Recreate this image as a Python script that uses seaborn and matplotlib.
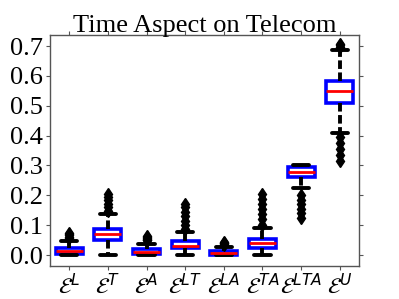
import numpy as np
import pandas as pd
import seaborn as sns
import matplotlib
matplotlib.use("Agg")
import matplotlib.pyplot as plt

# labels of the eight variants
labels = [r'$\mathcal{E}^{L}$', r'$\mathcal{E}^{T}$', r'$\mathcal{E}^{A}$', r'$\mathcal{E}^{LT}$',
          r'$\mathcal{E}^{LA}$', r'$\mathcal{E}^{TA}$', r'$\mathcal{E}^{LTA}$', r'$\mathcal{E}^{U}$']

# values (sorted, 33 per group)
e_l = [0.000, 0.000, 0.001, 0.001, 0.002, 0.002, 0.003, 0.003, 0.004,
       0.005, 0.006, 0.007, 0.008, 0.009, 0.010, 0.012, 0.013,
       0.014, 0.015, 0.017, 0.018, 0.020, 0.021, 0.023, 0.024,
       0.030, 0.040, 0.048, 0.056, 0.061, 0.066, 0.071, 0.075]
e_t = [0.000, 0.010, 0.020, 0.028, 0.035, 0.040, 0.044, 0.047, 0.050,
       0.053, 0.056, 0.059, 0.061, 0.063, 0.065, 0.067, 0.069,
       0.071, 0.073, 0.075, 0.078, 0.080, 0.082, 0.084, 0.086,
       0.110, 0.137, 0.146, 0.160, 0.172, 0.184, 0.196, 0.206]
e_a = [0.000, 0.000, 0.000, 0.001, 0.001, 0.001, 0.002, 0.002, 0.002,
       0.003, 0.004, 0.005, 0.006, 0.007, 0.008, 0.008, 0.009,
       0.010, 0.012, 0.013, 0.015, 0.016, 0.018, 0.019, 0.020,
       0.028, 0.037, 0.049, 0.052, 0.055, 0.058, 0.061, 0.063]
e_lt = [0.000, 0.004, 0.008, 0.011, 0.014, 0.017, 0.019, 0.021, 0.022,
        0.024, 0.025, 0.027, 0.028, 0.029, 0.030, 0.031, 0.032,
        0.034, 0.036, 0.038, 0.040, 0.042, 0.043, 0.045, 0.046,
        0.078, 0.087, 0.100, 0.115, 0.130, 0.145, 0.160, 0.172]
e_la = [0.000, 0.000, 0.000, 0.000, 0.000, 0.000, 0.001, 0.001, 0.001,
        0.002, 0.003, 0.004, 0.004, 0.005, 0.006, 0.006, 0.007,
        0.008, 0.009, 0.010, 0.011, 0.012, 0.013, 0.013, 0.014,
        0.018, 0.022, 0.026, 0.035, 0.037, 0.039, 0.041, 0.043]
e_ta = [0.000, 0.004, 0.008, 0.011, 0.014, 0.017, 0.019, 0.021, 0.023,
        0.025, 0.028, 0.030, 0.032, 0.034, 0.036, 0.038, 0.039,
        0.041, 0.043, 0.045, 0.047, 0.049, 0.051, 0.053, 0.054,
        0.089, 0.102, 0.120, 0.137, 0.154, 0.170, 0.187, 0.203]
e_lta = [0.125, 0.140, 0.155, 0.170, 0.185, 0.200, 0.225, 0.245, 0.262,
         0.265, 0.268, 0.270, 0.272, 0.274, 0.276, 0.277, 0.279,
         0.281, 0.283, 0.285, 0.288, 0.290, 0.292, 0.294, 0.296,
         0.297, 0.297, 0.298, 0.298, 0.299, 0.299, 0.300, 0.300]
e_u = [0.315, 0.335, 0.355, 0.375, 0.395, 0.410, 0.450, 0.480, 0.510,
       0.515, 0.520, 0.526, 0.532, 0.537, 0.541, 0.545, 0.548,
       0.552, 0.556, 0.561, 0.566, 0.571, 0.576, 0.580, 0.584,
       0.600, 0.620, 0.640, 0.660, 0.687, 0.698, 0.703, 0.708]

groups = [e_l, e_t, e_a, e_lt, e_la, e_ta, e_lta, e_u]
rows = []
for lab, vals in zip(labels, groups):
    for v in vals:
        rows.append((lab, v))
df = pd.DataFrame(rows, columns=["variant", "value"])

sns.set_style("ticks")
plt.rcParams['font.family'] = ['Liberation Serif', 'DejaVu Serif']
plt.rcParams['text.color'] = 'black'
plt.rcParams['xtick.labelcolor'] = 'black'
plt.rcParams['ytick.labelcolor'] = 'black'

fig = plt.figure(figsize=(3.99, 2.99), dpi=100)
ax = fig.add_axes([0.125, 0.11, 0.775, 0.773])

sns.boxplot(data=df, x="variant", y="value", order=labels, ax=ax, width=0.7,
            color="white", whis=1.5,
            boxprops=dict(facecolor="white", edgecolor="blue", linewidth=2.6),
            medianprops=dict(color="red", linewidth=2),
            whiskerprops=dict(color="black", linewidth=2.8, linestyle=(0, (2.2, 0.9))),
            capprops=dict(color="black", linewidth=2.8),
            flierprops=dict(marker="d", markerfacecolor="black", markeredgecolor="black",
                            markersize=6.5))

# caps a bit wider than seaborn's default
for ln in ax.lines:
    x = np.asarray(ln.get_xdata(), dtype=float)
    y = np.asarray(ln.get_ydata(), dtype=float)
    if len(x) == 2 and y[0] == y[1] and ln.get_color() == "black" and ln.get_linestyle() == "-":
        c = x.mean()
        ln.set_xdata(c + (x - c) * 1.2)

ax.set_ylim(-0.037, 0.737)
ax.set_yticks([0.0, 0.1, 0.2, 0.3, 0.4, 0.5, 0.6, 0.7])
ax.set_yticklabels(["0.0", "0.1", "0.2", "0.3", "0.4", "0.5", "0.6", "0.7"], fontsize=19)
ax.set_xticks(range(len(labels)))
ax.set_xticklabels(labels, fontsize=16, family="DejaVu Sans")
ax.set_xlabel("")
ax.set_ylabel("")
ax.set_title("Time Aspect on Telecom", fontsize=19, pad=2, color="black")

ax.tick_params(direction="out", length=3, width=0.8, color="#555555", pad=2,
               top=True, right=True, labelcolor="black")
for s in ax.spines.values():
    s.set_visible(True)
    s.set_color("#555555")
    s.set_linewidth(1)

fig.savefig("out.png", dpi=100)
